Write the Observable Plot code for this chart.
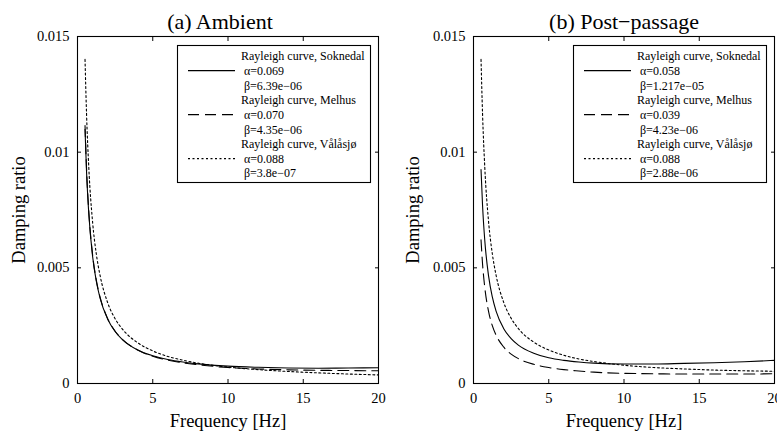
<!DOCTYPE html>
<html><head><meta charset="utf-8">
<script src="https://cdn.jsdelivr.net/npm/d3@7"></script>
<script src="https://cdn.jsdelivr.net/npm/@observablehq/plot@0.6"></script>
<style>
body{margin:0;background:#fff;}
#wrap{position:relative;width:777px;height:435px;overflow:hidden;font-family:"Liberation Serif","Times New Roman",serif;}
.panel{position:absolute;top:0;}
svg{overflow:visible;}
.legend{position:absolute;top:45px;}
</style></head>
<body><div id="wrap"></div>
<script>
// Frequency samples [Hz]
const freq = [0.5,0.6,0.75,1,1.25,1.5,2,2.5,3,4,5,6,7,8,10,12,14,16,18,20];
// (a) Ambient
const ambSoknedal = [0.01099,0.00916,0.00734,0.00551,0.00442,0.00369,0.00279,0.00225,0.00189,0.00145,0.00120,0.00104,0.00093,0.00085,0.00075,0.00070,0.00067,0.00066,0.00067,0.00068];
const ambMelhus   = [0.01115,0.00929,0.00744,0.00558,0.00447,0.00373,0.00281,0.00226,0.00190,0.00145,0.00118,0.00101,0.00089,0.00081,0.00069,0.00063,0.00059,0.00057,0.00056,0.00055];
const ambValasjo  = [0.01401,0.01167,0.00934,0.00700,0.00560,0.00467,0.00350,0.00280,0.00234,0.00176,0.00141,0.00117,0.00101,0.00088,0.00071,0.00060,0.00052,0.00046,0.00041,0.00037];
// (b) Post-passage
const postSoknedal = [0.00925,0.00772,0.00618,0.00465,0.00374,0.00313,0.00238,0.00194,0.00165,0.00131,0.00111,0.00100,0.00093,0.00088,0.00084,0.00084,0.00087,0.00090,0.00094,0.00100];
const postMelhus   = [0.00621,0.00518,0.00415,0.00312,0.00250,0.00209,0.00158,0.00127,0.00107,0.00083,0.00069,0.00060,0.00054,0.00049,0.00044,0.00042,0.00041,0.00041,0.00041,0.00042];
const postValasjo  = [0.01401,0.01168,0.00934,0.00701,0.00561,0.00468,0.00352,0.00282,0.00236,0.00179,0.00145,0.00122,0.00106,0.00095,0.00079,0.00069,0.00063,0.00058,0.00055,0.00053];

const xTicks = [0,5,10,15,20];
const yTicks = [0,0.005,0.01,0.015];
const yTickLabels = ["0","0.005","0.01","0.015"];
const panelTitles = ["(a) Ambient","(b) Post\u2212passage"];
const stations = ["Soknedal","Melhus","V\u00e5l\u00e5sj\u00f8"];
const dashes = [null,"11,6","2,2.5"];
const alphasA = ["0.069","0.070","0.088"];
const betasA  = ["6.39e\u221206","4.35e\u221206","3.8e\u221207"];
const alphasB = ["0.058","0.039","0.088"];
const betasB  = ["1.217e\u221205","4.23e\u221206","2.88e\u221206"];

const FONT = '"Liberation Serif","Times New Roman",serif';

function makePanel(title, seriesList, opt) {
  const rows = [];
  seriesList.forEach((vals, si) => vals.forEach((v, i) => rows.push({f: freq[i], v, s: si})));
  const lineOrder = [1, 0, 2];
  const yFmt = d => yTickLabels[yTicks.indexOf(d)];
  return Plot.plot({
    width: opt.width, height: 435,
    marginLeft: opt.ml, marginRight: opt.mr, marginTop: 36, marginBottom: 52,
    style: {fontFamily: FONT, fontSize: "14.5px", background: "transparent", color: "#000"},
    x: {domain: [0, 20]},
    y: {domain: [0, 0.015]},
    marks: [
      ...lineOrder.map(si => Plot.line(rows.filter(r => r.s === si), {
        x: "f", y: "v", stroke: "#000", strokeWidth: 1.1,
        strokeDasharray: dashes[si], curve: "monotone-x"
      })),
      Plot.frame({stroke: "#000", strokeWidth: 1.1}),
      Plot.axisX(xTicks, {anchor: "bottom", tickSize: -4, tickFormat: () => "", label: null}),
      Plot.axisX(xTicks, {anchor: "top", tickSize: -4, tickFormat: () => "", label: null}),
      Plot.axisX(xTicks, {anchor: "bottom", tickSize: 0, tickPadding: 9, label: null, fontSize: 14.5}),
      Plot.axisY(yTicks, {anchor: "left", tickSize: -4, tickFormat: () => "", label: null}),
      Plot.axisY(yTicks, {anchor: "right", tickSize: -4, tickFormat: () => "", label: null}),
      Plot.axisY(yTicks, {anchor: "left", tickSize: 0, tickPadding: 8, tickFormat: yFmt, label: null, fontSize: 14.5}),
      Plot.text([title], {frameAnchor: "top", lineAnchor: "middle", dy: -15, dx: opt.tdx, fontSize: 22, fill: "#000"}),
      Plot.text(["Frequency [Hz]"], {frameAnchor: "bottom", lineAnchor: "middle", dy: 38, fontSize: 18.5, fill: "#000"}),
      Plot.text(["Damping ratio"], {frameAnchor: "left", textAnchor: "middle", lineAnchor: "middle", dx: -opt.ylab, rotate: -90, fontSize: 18.5, fill: "#000"})
    ]
  });
}

function makeLegend(alphas, betas) {
  const w = 194, h = 138;
  const svg = d3.create("svg").attr("width", w).attr("height", h).attr("class", "legend")
    .style("font-family", FONT);
  svg.append("rect").attr("x", 0.5).attr("y", 0.5).attr("width", w - 1).attr("height", h - 1)
    .attr("fill", "#fff").attr("stroke", "#000").attr("stroke-width", 1.1);
  const step = 14.66;
  stations.forEach((st, i) => {
    const y0 = 11 + i * 3 * step;
    const lines = [
      {t: "Rayleigh curve, " + st, x: 64},
      {t: "\u03b1=" + alphas[i], x: 67},
      {t: "\u03b2=" + betas[i], x: 67}
    ];
    lines.forEach((l, j) => {
      svg.append("text").attr("x", l.x).attr("y", y0 + j * step).attr("dy", "0.35em")
        .attr("font-size", 12).attr("fill", "#000").text(l.t);
    });
    const ln = svg.append("line").attr("x1", 11).attr("x2", 58)
      .attr("y1", y0 + step).attr("y2", y0 + step)
      .attr("stroke", "#000").attr("stroke-width", 1.1);
    if (dashes[i]) ln.attr("stroke-dasharray", dashes[i]);
  });
  return svg.node();
}

const wrap = document.getElementById("wrap");
const pA = makePanel(panelTitles[0], [ambSoknedal, ambMelhus, ambValasjo], {width: 390, ml: 77, mr: 12, tdx: -8, ylab: 58});
pA.classList.add("panel"); pA.style.left = "0px";
const pB = makePanel(panelTitles[1], [postSoknedal, postMelhus, postValasjo], {width: 387, ml: 83, mr: 3, tdx: 0, ylab: 60});
pB.classList.add("panel"); pB.style.left = "390px";
wrap.appendChild(pA); wrap.appendChild(pB);
const lA = makeLegend(alphasA, betasA); lA.style.left = "177px";
const lB = makeLegend(alphasB, betasB); lB.style.left = "573px";
wrap.appendChild(lA); wrap.appendChild(lB);
</script>
</body></html>
